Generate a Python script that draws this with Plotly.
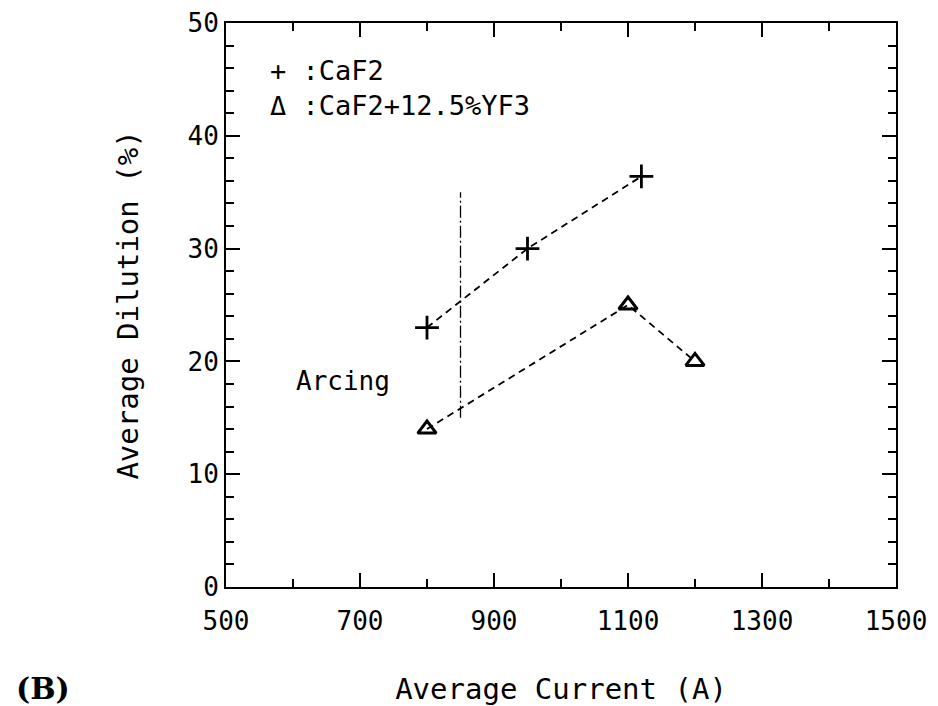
import plotly.graph_objects as go

# Data
caf2_current = [800, 950, 1120]
caf2_dilution = [23, 30, 36.4]
yf3_current = [800, 1100, 1200]
yf3_dilution = [14, 25, 20]
arcing_current = [850, 850]
arcing_dilution = [15, 35]
x_ticks = [500, 700, 900, 1100, 1300, 1500]
y_ticks = [0, 10, 20, 30, 40, 50]

MONO = "DejaVu Sans Mono"

fig = go.Figure()
fig.add_trace(go.Scatter(
    x=caf2_current, y=caf2_dilution, mode="lines+markers",
    line=dict(color="black", width=1.8, dash="7px,5px"),
    marker=dict(symbol="cross-thin-open", size=17, line=dict(color="black", width=2.8)),
    showlegend=False))
fig.add_trace(go.Scatter(
    x=yf3_current, y=yf3_dilution, mode="lines+markers",
    line=dict(color="black", width=1.8, dash="7px,5px"),
    marker=dict(symbol="triangle-up-open", size=16, color="black",
                line=dict(color="black", width=3)),
    showlegend=False))
fig.add_trace(go.Scatter(
    x=arcing_current, y=arcing_dilution, mode="lines",
    line=dict(color="black", width=1.3, dash="12px,3px,2px,3px"),
    showlegend=False))

fig.update_xaxes(
    range=[500, 1500], tickvals=x_ticks, ticktext=[str(v) for v in x_ticks],
    ticks="inside", ticklen=14, tickwidth=1.5, tickcolor="black",
    minor=dict(ticks="inside", dtick=100, ticklen=8, tickwidth=1.5, tickcolor="black"),
    showline=True, linecolor="black", linewidth=2, mirror="allticks",
    showgrid=False, zeroline=False, automargin=False,
    ticklabelstandoff=10,
    tickfont=dict(family=MONO, size=26, color="black"),
    title=dict(text="Average Current (A)", font=dict(family=MONO, size=29, color="black"),
               standoff=44),
)
fig.update_yaxes(
    range=[0, 50], tickvals=y_ticks, ticktext=[str(v) for v in y_ticks],
    ticks="inside", ticklen=14, tickwidth=1.5, tickcolor="black",
    minor=dict(ticks="inside", dtick=2, ticklen=8, tickwidth=1.5, tickcolor="black"),
    showline=True, linecolor="black", linewidth=2, mirror="allticks",
    showgrid=False, zeroline=False, automargin=False,
    tickfont=dict(family=MONO, size=26, color="black"),
    title=dict(text="Average Dilution (%)", font=dict(family=MONO, size=29, color="black"),
               standoff=40),
)

fig.add_annotation(x=563, y=45.8, text="+ :CaF2", showarrow=False, xanchor="left",
                   font=dict(family=MONO, size=27, color="black"))
fig.add_annotation(x=563, y=42.7, text="Δ :CaF2+12.5%YF3", showarrow=False, xanchor="left",
                   font=dict(family=MONO, size=27, color="black"))
fig.add_annotation(x=675, y=18.3, text="Arcing", showarrow=False,
                   font=dict(family=MONO, size=26, color="black"))
fig.add_annotation(text="<b>(B)</b>", showarrow=False,
                   xref="paper", yref="paper",
                   x=(14 - 226) / 670, y=(587 - 688) / 564,
                   xanchor="left", yanchor="middle",
                   font=dict(family="DejaVu Serif", size=30, color="black"))

fig.update_layout(
    width=938, height=706,
    margin=dict(l=226, r=42, t=23, b=119),
    paper_bgcolor="white", plot_bgcolor="white",
)

fig.write_html("out.html")
